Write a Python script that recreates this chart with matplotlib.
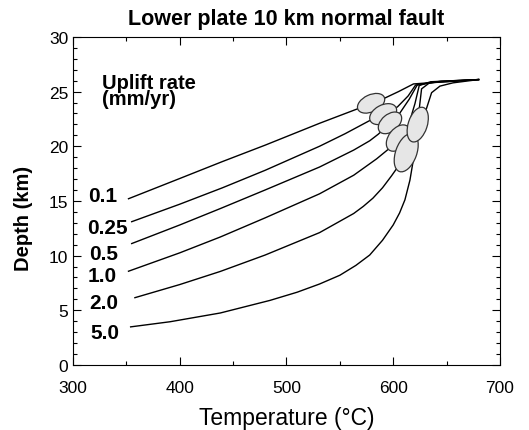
import numpy as np
import matplotlib
matplotlib.use("Agg")
import matplotlib.pyplot as plt
from matplotlib.patches import Ellipse
from matplotlib.transforms import ScaledTranslation
from matplotlib.ticker import MultipleLocator

plt.rcParams["font.family"] = ["Liberation Sans", "DejaVu Sans"]

# uplift rate labels and temperature-depth paths
rates = ["0.1", "0.25", "0.5", "1.0", "2.0", "5.0"]

T_01 = [352, 400, 440, 480, 531, 566, 580, 592, 605, 619, 640, 680]
D_01 = [15.2, 17.05, 18.6, 20.1, 22.1, 23.4, 23.9, 24.4, 25.0, 25.7, 25.85, 26.1]

T_025 = [355, 400, 440, 480, 531, 555, 578, 591, 604, 614, 621, 640, 680]
D_025 = [13.1, 14.7, 16.2, 17.8, 20.0, 21.15, 22.35, 22.9, 23.6, 24.6, 25.6, 25.9, 26.1]

T_05 = [355, 400, 438, 480, 531, 563, 578, 586, 597, 606, 615, 622.5, 645, 680]
D_05 = [11.1, 12.8, 14.3, 16.0, 18.1, 19.65, 20.5, 21.1, 22.1, 23.0, 24.3, 25.6, 25.95, 26.1]

T_1 = [352, 400, 438, 480, 531, 563, 584.5, 597, 604.7, 614, 620.4, 624.4, 635, 680]
D_1 = [8.57, 10.25, 11.7, 13.45, 15.65, 17.35, 18.85, 19.85, 20.7, 21.8, 23.9, 25.55, 25.9, 26.1]

T_2 = [358, 400, 438, 480, 531, 563, 572, 581, 590, 598.5, 605, 612, 617.3, 624.4,
       626.6, 634, 680]
D_2 = [6.15, 7.35, 8.55, 10.05, 12.1, 13.85, 14.5, 15.25, 16.2, 17.3, 18.2, 19.4, 21.0,
       23.4, 25.25, 25.8, 26.1]

T_5 = [354, 391, 438, 484.5, 510, 531, 550, 565, 578, 590, 600, 606, 611, 615.7,
       618.8, 620.5, 623, 630.7, 636, 643.8, 656, 680]
D_5 = [3.48, 3.95, 4.75, 5.9, 6.65, 7.4, 8.2, 9.1, 10.05, 11.4, 12.8, 13.9, 15.1, 16.9,
       18.7, 20.0, 22.0, 23.3, 24.9, 25.5, 25.8, 26.1]

curves_T = [T_01, T_025, T_05, T_1, T_2, T_5]
curves_D = [D_01, D_025, D_05, D_1, D_2, D_5]

# label anchor points
label_T = [328, 332, 328.6, 327.6, 329, 330]
label_D = [15.5, 12.6, 10.2, 8.2, 5.7, 3.0]

# shaded ellipses (centre in data units, size in pixels, tilt in degrees)
ell_T = [579.3, 590.6, 597.0, 604.7, 612.2, 623.0]
ell_D = [23.93, 22.94, 22.14, 20.75, 19.41, 21.98]
ell_w = [29, 29, 27, 30, 40, 36]
ell_h = [17, 18, 17, 19, 21, 19]
ell_ang = [25, 28, 40, 52, 70, 72]

fig = plt.figure(figsize=(5.29, 4.31), dpi=100)
ax = fig.add_axes([0.138, 0.151, 0.807, 0.761])

for T, D in zip(curves_T, curves_D):
    ax.plot(T, D, color="black", lw=1.0, zorder=2)

for x, y, w, h, a in zip(ell_T, ell_D, ell_w, ell_h, ell_ang):
    tr = fig.dpi_scale_trans + ScaledTranslation(x, y, ax.transData)
    e = Ellipse((0, 0), w / 100, h / 100, angle=a, transform=tr,
                facecolor="#e6e6e6", edgecolor="#333333", lw=0.9, zorder=3)
    ax.add_patch(e)

for lab, x, y in zip(rates, label_T, label_D):
    ax.text(x, y, lab, fontsize=15, fontweight="bold", ha="center", va="center")

ax.text(327, 25.1, "Uplift rate\n(mm/yr)", fontsize=14.5, fontweight="bold",
        ha="left", va="center", linespacing=0.85)

ax.set_xlim(300, 700)
ax.set_ylim(0, 30)
ax.xaxis.set_major_locator(MultipleLocator(100))
ax.xaxis.set_minor_locator(MultipleLocator(50))
ax.yaxis.set_major_locator(MultipleLocator(5))
ax.yaxis.set_minor_locator(MultipleLocator(1))
ax.tick_params(which="both", direction="in", top=True, right=True, labelsize=12.5, width=0.8)
ax.tick_params(which="major", length=6)
ax.tick_params(which="minor", length=3)
ax.tick_params(axis="x", pad=10.5)

ax.set_xlabel("Temperature (°C)", fontsize=16.5, labelpad=8)
ax.set_ylabel("Depth (km)", fontsize=14.5, fontweight="bold")
ax.yaxis.set_label_coords(-0.094, 0.45)
ax.set_title("Lower plate 10 km normal fault", fontsize=15.5, fontweight="bold", pad=9)

fig.savefig("out.png", dpi=100)
